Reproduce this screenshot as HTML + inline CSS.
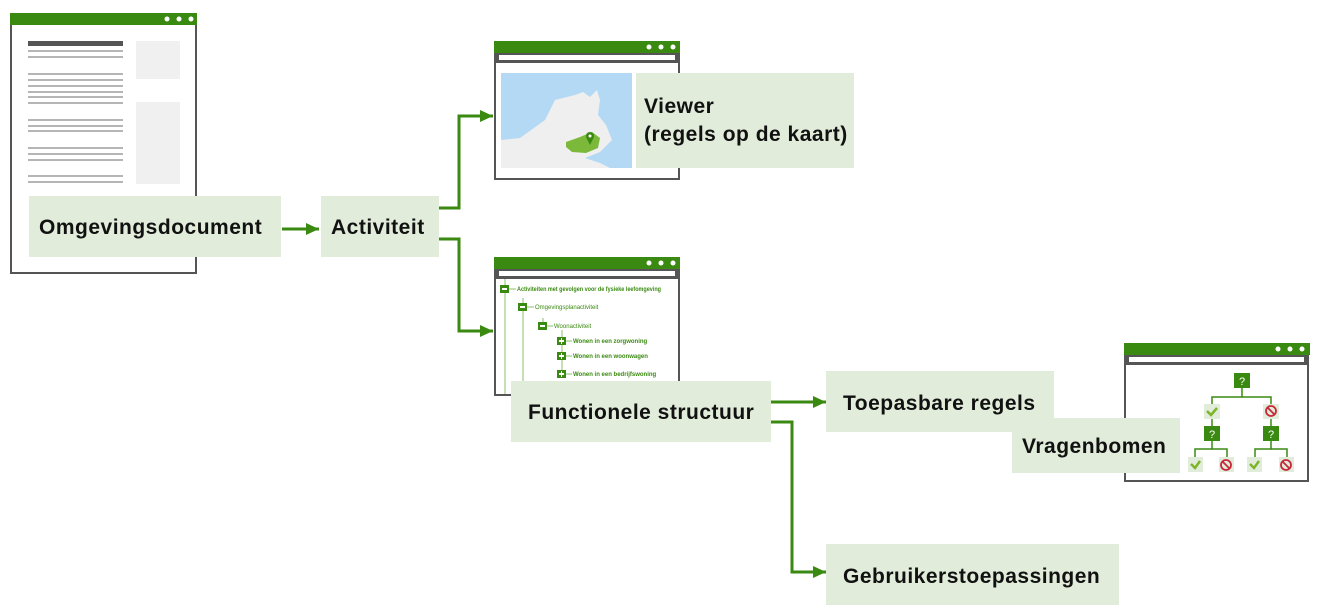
<!DOCTYPE html>
<html><head><meta charset="utf-8"><style>
html,body{margin:0;padding:0;background:#fff;}
svg{display:block;}
.t{font-family:"Liberation Sans",sans-serif;font-weight:bold;font-size:21px;letter-spacing:0.5px;fill:#111;}
.s{font-family:"Liberation Sans",sans-serif;font-size:6px;fill:#3a8a12;}
</style></head><body>
<svg width="1319" height="616" viewBox="0 0 1319 616" xmlns="http://www.w3.org/2000/svg">
<defs>
<marker id="b" markerWidth="14" markerHeight="14" refX="13" refY="7" orient="auto" markerUnits="userSpaceOnUse"><path d="M0,1 L13,7 L0,13 z" fill="#3a8a12"/></marker>
<clipPath id="c3"><rect x="496" y="279" width="182" height="115"/></clipPath>
</defs>
<!-- window 1 -->
<rect x="11" y="14" width="185" height="259" fill="#fff" stroke="#555" stroke-width="2"/>
<rect x="10" y="13" width="187" height="12" fill="#3a8a12"/>
<circle cx="167" cy="19" r="2.5" fill="#fff"/><circle cx="179" cy="19" r="2.5" fill="#fff"/><circle cx="191" cy="19" r="2.5" fill="#fff"/>
<rect x="28" y="41" width="95" height="5" fill="#555"/>
<g fill="#b5b5b5">
<rect x="28" y="50" width="95" height="2"/><rect x="28" y="56" width="95" height="2"/>
<rect x="28" y="73" width="95" height="2"/><rect x="28" y="79" width="95" height="2"/><rect x="28" y="85" width="95" height="2"/><rect x="28" y="91" width="95" height="2"/><rect x="28" y="96" width="95" height="2"/><rect x="28" y="102" width="95" height="2"/>
<rect x="28" y="119" width="95" height="2"/><rect x="28" y="125" width="95" height="2"/><rect x="28" y="130" width="95" height="2"/>
<rect x="28" y="147" width="95" height="2"/><rect x="28" y="153" width="95" height="2"/><rect x="28" y="159" width="95" height="2"/>
<rect x="28" y="175" width="95" height="2"/><rect x="28" y="181" width="95" height="2"/>
</g>
<rect x="136" y="41" width="44" height="38" fill="#f0f0f0"/>
<rect x="136" y="102" width="44" height="82" fill="#f0f0f0"/>
<rect x="29" y="196" width="252" height="61" fill="#e1ecda"/>
<text class="t" x="39" y="234">Omgevingsdocument</text>
<line x1="282" y1="229" x2="319" y2="229" stroke="#3a8a12" stroke-width="3" marker-end="url(#b)"/>
<rect x="321" y="196" width="118" height="61" fill="#e1ecda"/>
<text class="t" x="331" y="234">Activiteit</text>
<polyline points="439,208 459,208 459,116 493,116" fill="none" stroke="#3a8a12" stroke-width="3" marker-end="url(#b)"/>
<polyline points="439,239 459,239 459,331 493,331" fill="none" stroke="#3a8a12" stroke-width="3" marker-end="url(#b)"/>
<!-- window 2 -->
<rect x="495" y="42" width="184" height="137" fill="#fff" stroke="#555" stroke-width="2"/>
<rect x="494" y="41" width="186" height="12" fill="#3a8a12"/>
<circle cx="649" cy="47" r="2.5" fill="#fff"/><circle cx="661" cy="47" r="2.5" fill="#fff"/><circle cx="673" cy="47" r="2.5" fill="#fff"/>
<rect x="495" y="53" width="184" height="10" fill="#555"/><rect x="499" y="55" width="176" height="5" fill="#fff"/>
<rect x="501" y="73" width="131" height="95" fill="#b3d9f5"/>
<path d="M501,140 L520,138 L545,120 L555,100 L575,95 L583,92 L590,97 L597,90 L600,100 L598,115 L606,125 L612,140 L600,152 L585,158 L600,163 L610,168 L501,168 Z" fill="#efefef"/>
<path d="M566,142 L580,137 L592,132 L600,138 L598,148 L586,153 L572,152 L566,147 Z" fill="#7cb93a"/>
<circle cx="590" cy="136" r="4" fill="#3a8a12"/><path d="M586,137 L590,145 L594,137 Z" fill="#3a8a12"/><circle cx="590" cy="136" r="1.5" fill="#fff"/>
<rect x="636" y="73" width="218" height="95" fill="#e1ecda"/>
<text class="t" x="644" y="113">Viewer</text>
<text class="t" x="644" y="141">(regels op de kaart)</text>
<!-- window 3 -->
<rect x="495" y="258" width="184" height="137" fill="#fff" stroke="#555" stroke-width="2"/>
<rect x="494" y="257" width="186" height="12" fill="#3a8a12"/>
<circle cx="649" cy="263" r="2.5" fill="#fff"/><circle cx="661" cy="263" r="2.5" fill="#fff"/><circle cx="673" cy="263" r="2.5" fill="#fff"/>
<rect x="495" y="269" width="184" height="10" fill="#555"/><rect x="499" y="271" width="176" height="5" fill="#fff"/>
<g clip-path="url(#c3)">
<g stroke="#8cbf6a" stroke-width="1" fill="none">
<line x1="505" y1="279" x2="505" y2="396"/><line x1="523" y1="298" x2="523" y2="396"/><line x1="543" y1="318" x2="543" y2="330"/><line x1="562" y1="330" x2="562" y2="378"/>
<line x1="509" y1="289" x2="516" y2="289"/><line x1="527" y1="307" x2="534" y2="307"/><line x1="547" y1="326" x2="553" y2="326"/>
<line x1="566" y1="341" x2="572" y2="341"/><line x1="566" y1="356" x2="572" y2="356"/><line x1="566" y1="374" x2="572" y2="374"/>
</g>
<g fill="#3a8a12">
<rect x="500" y="285" width="9" height="8"/><rect x="518" y="303" width="9" height="8"/><rect x="538" y="322" width="9" height="8"/>
<rect x="557" y="337" width="9" height="8"/><rect x="557" y="352" width="9" height="8"/><rect x="557" y="370" width="9" height="8"/>
</g>
<g fill="#fff"><rect x="502" y="288" width="5" height="2"/><rect x="520" y="306" width="5" height="2"/><rect x="540" y="325" width="5" height="2"/>
<rect x="559" y="340" width="5" height="2"/><rect x="561" y="338" width="1" height="6"/>
<rect x="559" y="355" width="5" height="2"/><rect x="561" y="353" width="1" height="6"/>
<rect x="559" y="373" width="5" height="2"/><rect x="561" y="371" width="1" height="6"/></g>
<text class="s" x="517" y="291" font-weight="bold" textLength="144" lengthAdjust="spacingAndGlyphs">Activiteiten met gevolgen voor de fysieke leefomgeving</text>
<text class="s" x="535" y="309">Omgevingsplanactiviteit</text>
<text class="s" x="554" y="328">Woonactiviteit</text>
<text class="s" x="573" y="343" font-weight="bold">Wonen in een zorgwoning</text>
<text class="s" x="573" y="358" font-weight="bold">Wonen in een woonwagen</text>
<text class="s" x="573" y="376" font-weight="bold">Wonen in een bedrijfswoning</text>
</g>
<rect x="511" y="381" width="260" height="61" fill="#e1ecda"/>
<text class="t" x="528" y="419">Functionele structuur</text>
<line x1="771" y1="402" x2="826" y2="402" stroke="#3a8a12" stroke-width="3" marker-end="url(#b)"/>
<polyline points="771,422 792,422 792,572 826,572" fill="none" stroke="#3a8a12" stroke-width="3" marker-end="url(#b)"/>
<rect x="826" y="371" width="228" height="61" fill="#e1ecda"/>
<text class="t" x="843" y="410">Toepasbare regels</text>
<!-- window 4 -->
<rect x="1125" y="344" width="183" height="137" fill="#fff" stroke="#555" stroke-width="2"/>
<rect x="1124" y="343" width="186" height="12" fill="#3a8a12"/>
<circle cx="1278" cy="349" r="2.5" fill="#fff"/><circle cx="1290" cy="349" r="2.5" fill="#fff"/><circle cx="1302" cy="349" r="2.5" fill="#fff"/>
<rect x="1125" y="355" width="183" height="10" fill="#555"/><rect x="1129" y="357" width="175" height="5" fill="#fff"/>
<g stroke="#3a8a12" stroke-width="1.5" fill="none">
<polyline points="1242,388 1242,397 1212,397 1212,404"/><polyline points="1242,397 1271,397 1271,404"/>
<line x1="1212" y1="419" x2="1212" y2="426"/><line x1="1271" y1="419" x2="1271" y2="426"/>
<polyline points="1212,441 1212,449 1195,449 1195,457"/><polyline points="1212,449 1227,449 1227,457"/>
<polyline points="1271,441 1271,449 1255,449 1255,457"/><polyline points="1271,449 1287,449 1287,457"/>
</g>
<g fill="#3a8a12">
<rect x="1234" y="373" width="16" height="15"/><rect x="1204" y="426" width="16" height="15"/><rect x="1263" y="426" width="16" height="15"/>
</g>
<g fill="#fff" font-family="Liberation Sans,sans-serif" font-size="11" text-anchor="middle"><text x="1242" y="385">?</text><text x="1212" y="438">?</text><text x="1271" y="438">?</text></g>
<g fill="#e1ecda"><rect x="1204" y="404" width="16" height="15"/><rect x="1263" y="404" width="16" height="15"/><rect x="1188" y="457" width="15" height="15"/><rect x="1219" y="457" width="15" height="15"/><rect x="1247" y="457" width="15" height="15"/><rect x="1279" y="457" width="15" height="15"/></g>
<g stroke="#7cb52a" stroke-width="2.5" fill="none"><polyline points="1207,411 1211,415 1217,408"/><polyline points="1191,464 1195,468 1200,461"/><polyline points="1250,464 1254,468 1259,461"/></g>
<g stroke="#c8283a" stroke-width="1.8" fill="none"><circle cx="1271" cy="411" r="5"/><line x1="1267.5" y1="407.5" x2="1274.5" y2="414.5"/><circle cx="1226" cy="465" r="5"/><line x1="1222.5" y1="461.5" x2="1229.5" y2="468.5"/><circle cx="1286" cy="465" r="5"/><line x1="1282.5" y1="461.5" x2="1289.5" y2="468.5"/></g>
<rect x="1012" y="418" width="168" height="55" fill="#e1ecda"/>
<text class="t" x="1022" y="453">Vragenbomen</text>
<rect x="826" y="544" width="293" height="61" fill="#e1ecda"/>
<text class="t" x="843" y="583">Gebruikerstoepassingen</text>
</svg>
</body></html>
